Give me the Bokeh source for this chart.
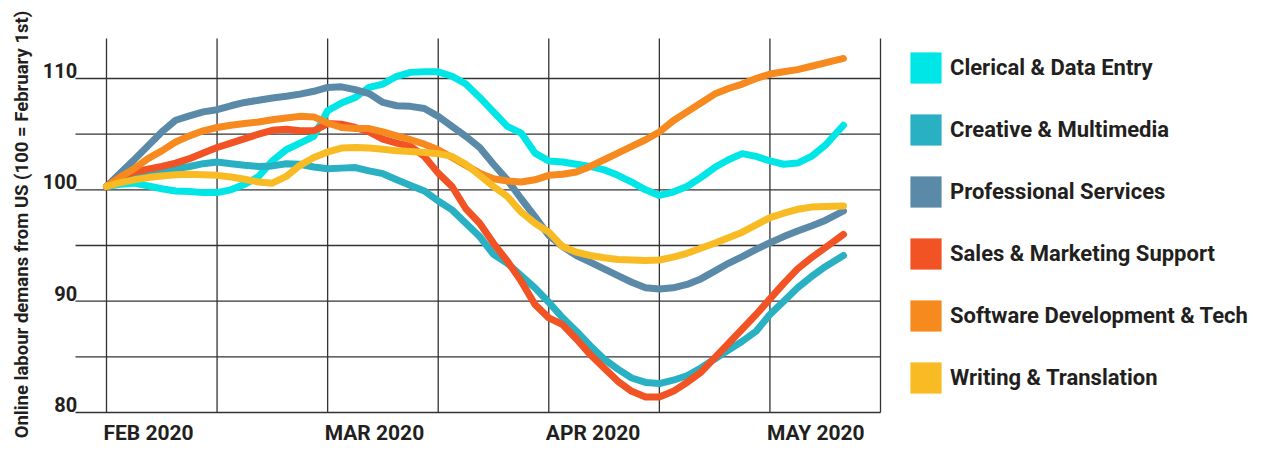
import math
from bokeh.plotting import figure
from bokeh.models import Range1d, Legend, LegendItem
from bokeh.core.properties import value
from bokeh.embed import file_html
from bokeh.resources import INLINE

# ---------------- data (x = half-month periods since Feb 1st 2020, read every 1/8) ----------------
periods = [i * 0.125 for i in range(53)] + [6.665]

clerical = [100.3, 100.5, 100.6, 100.35, 100.1, 99.9, 99.85, 99.75,
            99.75, 100.0, 100.5, 101.2, 102.6, 103.6, 104.2, 104.8,
            107.1, 107.8, 108.3, 109.2, 109.5, 110.2, 110.55, 110.6,
            110.6, 110.2, 109.5, 108.3, 107.0, 105.7, 105.1, 103.3,
            102.6, 102.5, 102.3, 102.1, 101.8, 101.3, 100.7, 100.0,
            99.5, 99.8, 100.3, 101.1, 102.0, 102.7, 103.25, 103.0,
            102.6, 102.3, 102.4, 103.0, 104.0, 105.8]
creative = [100.3, 100.7, 101.0, 101.3, 101.6, 101.9, 102.1, 102.35,
            102.5, 102.35, 102.2, 102.1, 102.15, 102.35, 102.3, 102.05,
            101.9, 101.95, 102.0, 101.7, 101.45, 100.9, 100.4, 99.9,
            99.0, 98.2, 97.0, 95.8, 94.2, 93.4, 92.3, 91.2,
            89.9, 88.5, 87.3, 86.0, 84.8, 83.9, 83.1, 82.7,
            82.6, 82.9, 83.3, 84.0, 84.8, 85.6, 86.4, 87.3,
            88.8, 90.0, 91.2, 92.2, 93.1, 94.1]
professional = [100.3, 101.5, 102.7, 103.95, 105.2, 106.25, 106.65, 107.0,
                107.2, 107.55, 107.85, 108.05, 108.25, 108.4, 108.6, 108.85,
                109.2, 109.25, 109.0, 108.65, 107.85, 107.55, 107.5, 107.3,
                106.6, 105.7, 104.8, 103.8, 102.3, 100.9, 99.2, 97.6,
                95.9, 94.9, 94.1, 93.5, 92.9, 92.3, 91.7, 91.2,
                91.1, 91.2, 91.5, 92.0, 92.7, 93.4, 94.0, 94.65,
                95.25, 95.8, 96.3, 96.75, 97.25, 98.1]
sales = [100.3, 101.2, 101.6, 101.85, 102.1, 102.4, 102.8, 103.3,
         103.8, 104.2, 104.6, 105.0, 105.35, 105.45, 105.3, 105.3,
         105.95, 105.9, 105.6, 105.2, 104.55, 104.2, 103.9, 103.0,
         101.5, 100.3, 98.3, 97.0, 95.2, 93.6, 91.8, 89.7,
         88.5, 87.9, 86.6, 85.2, 84.0, 82.8, 81.9, 81.4,
         81.4, 81.9, 82.7, 83.6, 84.9, 86.2, 87.5, 88.8,
         90.2, 91.6, 92.9, 93.9, 94.8, 96.0]
software = [100.3, 101.15, 101.9, 102.8, 103.5, 104.3, 104.85, 105.3,
            105.6, 105.8, 105.95, 106.1, 106.3, 106.45, 106.6, 106.55,
            106.0, 105.6, 105.5, 105.5, 105.2, 104.85, 104.5, 104.1,
            103.6, 102.9, 102.2, 101.5, 101.0, 100.8, 100.7, 100.9,
            101.3, 101.4, 101.6, 102.1, 102.7, 103.3, 103.9, 104.5,
            105.2, 106.2, 107.0, 107.8, 108.6, 109.1, 109.5, 110.0,
            110.4, 110.6, 110.8, 111.1, 111.4, 111.8]
writing = [100.3, 100.65, 100.9, 101.1, 101.25, 101.35, 101.4, 101.35,
           101.3, 101.15, 100.95, 100.7, 100.6, 101.2, 102.2, 102.9,
           103.4, 103.75, 103.8, 103.75, 103.65, 103.5, 103.45, 103.35,
           103.25, 103.0, 102.3, 101.3, 100.3, 99.4, 98.0, 97.0,
           96.2, 94.9, 94.4, 94.1, 93.9, 93.75, 93.7, 93.65,
           93.7, 93.95, 94.3, 94.75, 95.2, 95.7, 96.2, 96.85,
           97.5, 97.9, 98.25, 98.45, 98.5, 98.55]

categories = ["Clerical & Data Entry", "Creative & Multimedia", "Professional Services",
              "Sales & Marketing Support", "Software Development & Tech", "Writing & Translation"]
series = [clerical, creative, professional, sales, software, writing]
colors = ["#00e6e6", "#29b0c3", "#5b8aa9", "#f15324", "#f68a1f", "#f8bb23"]

month_labels = ["FEB 2020", "MAR 2020", "APR 2020", "MAY 2020"]
month_pos = [0, 2, 4, 6]
y_ticks = [80, 90, 100, 110]
y_grid = [80, 85, 90, 95, 100, 105, 110]
x_grid = [0, 1, 2, 3, 4, 5, 6, 7]
y_title = "Online labour demans from US (100 = February 1st)"

# ---------------- layout ----------------
W, H = 1249, 446
X0, Y80 = 106.0, 412.0   # canvas pixel of period 0 / value 80
PXU = 110.571            # pixels per period
PXV = (Y80 - 78) / 30.0  # pixels per index point (110 sits at pixel 78)
x_start = -X0 / PXU
x_end = (W - X0) / PXU
y_end = 80 + Y80 / PXV
y_start = 80 - (H - Y80) / PXV

FONT = value("Roboto")
TXT = "#231f20"
GRID = "#333333"

p = figure(width=W, height=H, output_backend="svg", toolbar_location=None,
           x_range=Range1d(x_start, x_end), y_range=Range1d(y_start, y_end),
           x_axis_type=None, y_axis_type=None, min_border=0)
p.outline_line_color = None
p.grid.visible = False
p.background_fill_color = "white"

grid_left = (75 - X0) / PXU
grid_top = 80 + (Y80 - 38) / PXV

p.segment(x0=[grid_left] * len(y_grid), x1=[x_grid[-1]] * len(y_grid), y0=y_grid, y1=y_grid,
          line_color=GRID, line_width=1.3)
p.segment(x0=x_grid, x1=x_grid, y0=[80] * len(x_grid), y1=[grid_top] * len(x_grid),
          line_color=GRID, line_width=1.3)

# y tick labels (sitting on their grid line)
p.text(x=[grid_left + 0.015] * len(y_ticks), y=y_ticks, text=[str(t) for t in y_ticks],
       text_font=FONT, text_font_style="bold", text_font_size="20px",
       text_align="right", text_baseline="middle", text_color=TXT, y_offset=-8)

# x labels
p.text(x=month_pos, y=[80 - 20 / PXV] * len(month_pos), text=month_labels,
       text_font=FONT, text_font_style="bold", text_font_size="21px",
       text_align="left", text_baseline="middle", text_color=TXT, x_offset=-3)

# y title
p.text(x=[(21 - X0) / PXU], y=[80 + (Y80 - 224) / PXV], text=[y_title],
       angle=math.pi / 2, text_font=FONT, text_font_style="bold", text_font_size="18.5px",
       text_align="center", text_baseline="middle", text_color=TXT)

items = []
for name, vals, col in zip(categories, series, colors):
    p.line(periods, vals, line_color=col, line_width=7, line_cap="round", line_join="round")
    sw = p.rect(x=[periods[0]], y=[vals[0]], width=0, height=0, fill_color=col, line_color=None)
    items.append(LegendItem(label=name, renderers=[sw]))

legend = Legend(items=items, location=(906, 49), orientation="vertical",
                glyph_width=39, glyph_height=39, spacing=23, padding=0, margin=0,
                label_standoff=5, border_line_alpha=0, background_fill_alpha=0,
                label_text_font="Roboto", label_text_font_style="bold",
                label_text_font_size="22px", label_text_color=TXT)
p.add_layout(legend)

open("out.html", "w").write(file_html(p, INLINE))
